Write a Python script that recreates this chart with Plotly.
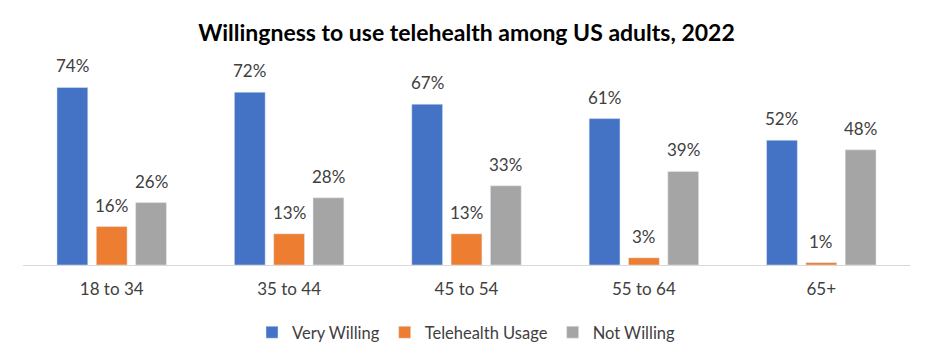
import plotly.graph_objects as go

categories = ["18 to 34", "35 to 44", "45 to 54", "55 to 64", "65+"]
very_willing = [74, 72, 67, 61, 52]
telehealth_usage = [16, 13, 13, 3, 1]
not_willing = [26, 28, 33, 39, 48]

series = [
    ("Very Willing", very_willing, "#4472C4"),
    ("Telehealth Usage", telehealth_usage, "#ED7D31"),
    ("Not Willing", not_willing, "#A5A5A5"),
]

FONT = "Lato, Open Sans, sans-serif"
TXT = "#404040"
BARGAP = 0.335
GROUPGAP = 0.216

fig = go.Figure()
for name, vals, color in series:
    fig.add_trace(go.Bar(x=categories, y=vals, name=name, marker_color=color))

# data labels placed above each bar, via the category axis index
n = len(series)
slot = (1 - BARGAP) / n
for j, (name, vals, color) in enumerate(series):
    off = (j - (n - 1) / 2) * slot
    for i, v in enumerate(vals):
        fig.add_annotation(x=i + off, y=v, xref="x", yref="y", text=f"{v}%",
                           showarrow=False, yanchor="bottom", yshift=9,
                           font=dict(size=17, color=TXT, family=FONT))

W, H = 933, 362
left, right = 23, W - 910
top, bottom = 73, H - 265
fig.update_layout(
    width=W, height=H,
    margin=dict(l=left, r=right, t=top, b=bottom, autoexpand=False),
    paper_bgcolor="white", plot_bgcolor="white",
    barmode="group", bargap=BARGAP, bargroupgap=GROUPGAP,
    title=dict(text="<b>Willingness to use telehealth among US adults, 2022</b>",
               x=(196 + 737) / 2 / W, xanchor="center", y=1 - 32.5 / H, yanchor="middle",
               font=dict(size=23, color="black", family=FONT)),
    xaxis=dict(showline=True, linecolor="#D9D9D9", linewidth=1, ticks="",
               ticklabelstandoff=9,
               tickfont=dict(size=17, color=TXT, family=FONT)),
    yaxis=dict(range=[0, 80], visible=False),
    legend=dict(orientation="h", x=0.5, xanchor="center", y=-(332.5 - 265) / (265 - top),
                yanchor="middle", font=dict(size=16.5, color=TXT, family=FONT),
                traceorder="normal"),
    showlegend=True,
)
fig.write_html("out.html", config={"displayModeBar": False},
               post_script="document.body.style.margin='0';")
